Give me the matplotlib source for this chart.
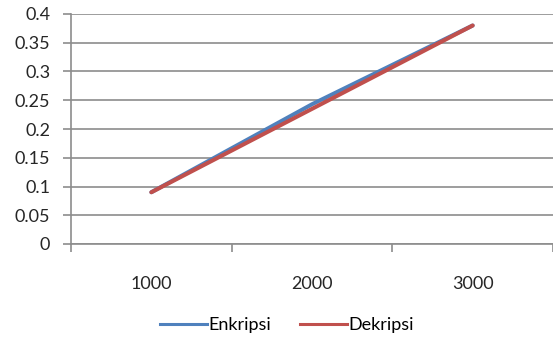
import matplotlib.pyplot as plt
from matplotlib.lines import Line2D
import numpy as np

categories = ['1000', '2000', '3000']
enkripsi = [0.09, 0.243, 0.38]
dekripsi = [0.09, 0.235, 0.38]

plt.rcParams['font.family'] = ['Lato', 'DejaVu Sans']

blue = '#4F81BD'
red = '#C0504D'
gray = '#8c8c8c'

fig = plt.figure(figsize=(5.53, 3.47), dpi=100)
ax = fig.add_axes([71 / 553, 1 - 244 / 347, 482 / 553, 230 / 347])

x = np.arange(len(categories))
ax.plot(x, enkripsi, color=blue, lw=2.9, solid_capstyle='round')
ax.plot(x, dekripsi, color=red, lw=2.9, solid_capstyle='round')

ax.set_xlim(-0.5, 2.5)
ax.set_ylim(0, 0.4)
ax.set_yticks(np.arange(0, 0.401, 0.05))
ax.set_yticklabels(['0', '0.05', '0.1', '0.15', '0.2', '0.25', '0.3', '0.35', '0.4'])
ax.grid(axis='y', color=gray, lw=1.2)
ax.set_axisbelow(True)

for s in ['top', 'right']:
    ax.spines[s].set_visible(False)
for s in ['left', 'bottom']:
    ax.spines[s].set_color(gray)
    ax.spines[s].set_linewidth(1.2)

ax.set_xticks(x)
ax.set_xticklabels(categories)
ax.set_xticks([-0.5, 0.5, 1.5, 2.5], minor=True)
ax.tick_params(axis='x', which='major', length=0, pad=23, labelsize=13, colors='#262626')
ax.tick_params(axis='x', which='minor', length=6, width=1.2, color=gray)
ax.tick_params(axis='y', length=6, width=1.2, color=gray, labelsize=13, labelcolor='#262626', pad=9)

handles = [Line2D([], [], color=blue, lw=2.2), Line2D([], [], color=red, lw=2.2)]
fig.legend(handles, ['Enkripsi', 'Dekripsi'], loc='center',
           bbox_to_anchor=(287 / 553, 1 - 325 / 347), ncol=2, frameon=False,
           fontsize=13, handlelength=2.6, columnspacing=1.6, handletextpad=0.1)

plt.savefig('out.png', dpi=100)
